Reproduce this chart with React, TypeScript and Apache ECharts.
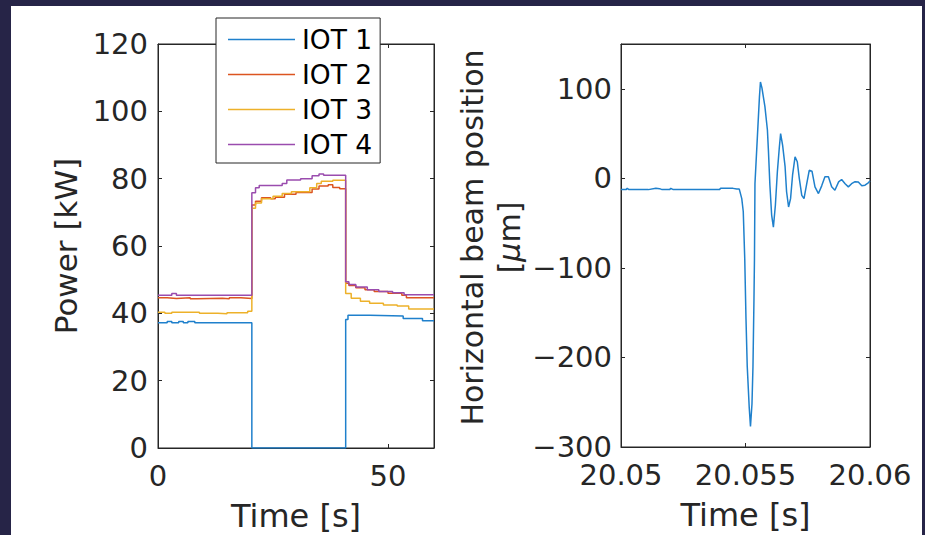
import React, { useEffect, useRef } from "react";
import * as echarts from "echarts";

// ---- Left panel: IOT power (stairs) ----
const iotNames = ["IOT 1", "IOT 2", "IOT 3", "IOT 4"];
const iot1Time = [0, 2, 3, 4.5, 5.5, 6.5, 8, 20.4, 40.8, 41.3, 46, 53.3, 57.5, 60];
const iot1Power = [37.2, 37.6, 37.2, 37.6, 37.2, 37.6, 37.2, 0, 38.2, 39.4, 39.2, 38.5, 37.8, 37.8];
const iot2Time = [0, 2, 4, 7, 8.5, 14, 15.5, 18, 20.4, 21.2, 22.5, 24.5, 25.5, 27.5, 30, 33.5, 35, 37, 38, 39.5, 40.8, 41.5, 43, 45, 47, 50, 53, 54, 60];
const iot2Power = [44.6, 44.4, 44.6, 44.3, 44.5, 44.3, 44.6, 44.4, 72.2, 73.3, 74.3, 74.0, 74.5, 75.4, 75.9, 76.9, 77.8, 78.2, 77.4, 77.0, 48.9, 48.3, 47.6, 47.0, 46.5, 46.0, 45.4, 44.6, 44.6];
const iot3Time = [0, 1.5, 3, 9, 13, 15, 19.5, 20.4, 21.2, 22.5, 25, 27, 29, 33, 34.5, 35.5, 38, 40.8, 42, 44, 46, 49, 52, 54.5, 60];
const iot3Power = [40.3, 40.0, 40.3, 40.0, 39.9, 40.2, 40.6, 71.2, 72.8, 74.0, 74.8, 75.6, 76.1, 77.3, 78.6, 79.2, 79.5, 45.9, 44.5, 43.6, 43.0, 42.5, 42.2, 41.3, 41.3];
const iot4Time = [0, 3, 4, 20.4, 21.2, 22, 27, 28, 31, 33.5, 35, 36, 40.8, 41.5, 43, 45.5, 48, 51, 53.5, 60];
const iot4Power = [45.4, 45.9, 45.4, 75.8, 77.3, 78.0, 78.6, 79.6, 80.0, 80.9, 81.4, 81.0, 49.4, 48.6, 47.8, 47.0, 46.5, 46.1, 45.5, 45.5];
const powerTicks = { min: 0, max: 120, interval: 20 };
const timeTicks = { min: 0, max: 60, interval: 50 };

// ---- Right panel: horizontal beam position ----
const beamTime = [
  20.05, 20.0502, 20.05025, 20.05032, 20.0511, 20.0514, 20.05155, 20.05165, 20.05195, 20.052, 20.0521, 20.05395,
  20.054, 20.0545, 20.05465, 20.05475, 20.05485, 20.05491, 20.05497, 20.05502, 20.05507, 20.05515, 20.0552,
  20.05526, 20.0553, 20.05534, 20.05536, 20.05538, 20.05548, 20.05556, 20.0556, 20.05566, 20.05578, 20.05588,
  20.05592, 20.05598, 20.05605, 20.05612, 20.0562, 20.05628, 20.05636, 20.05641, 20.05649, 20.05659, 20.05665,
  20.05673, 20.05681, 20.05689, 20.05699, 20.05708, 20.05716, 20.05726, 20.05735, 20.05746, 20.05756, 20.05767,
  20.05779, 20.05793, 20.05806, 20.05819, 20.05833, 20.05846, 20.05859, 20.05874, 20.05886, 20.059, 20.05913,
  20.05926, 20.0594, 20.05953, 20.05967, 20.0598, 20.05993, 20.06,
];
const beamPos = [
  -12.6, -12.6, -11.2, -12.6, -12.6, -11.0, -11.5, -12.6, -12.6, -11.2, -12.6, -12.6,
  -11.2, -11.2, -12.0, -12.0, -22.7, -37, -90, -157, -210, -256, -277,
  -252, -210, -135, -90, -6, 48, 91, 107.5, 101, 80, 54,
  31.5, -7.7, -41, -54.5, -30, 7.3, 35, 50, 37, 13, -15,
  -32, -22.7, 3.5, 24, 18.5, 0, -19, -22.7, -6, 9, 8,
  -9.5, -17, -8.4, 1.7, 1.7, -9.5, -13.3, -4, -1.3, -6, -9.5,
  -6, -3.7, -4.2, -8.2, -7.6, -5, -3,
];
const beamTicksY = { min: -300, max: 150, interval: 100 };
const beamTicksX = { min: 20.05, max: 20.06, interval: 0.005 };

const colors = ["#1f80cc", "#dc5520", "#edb12a", "#9a4cae"];
const axisColor = "#262626";
const FONT = "DejaVu Sans";

const pairs = (t: number[], v: number[]) => t.map((x, i) => [x, v[i]]);
const minus = (v: number) => String(v).replace("-", "\u2212");

function baseAxis(extra: any) {
  return {
    type: "value",
    axisLine: { show: true, onZero: false, lineStyle: { color: axisColor, width: 1 } },
    axisTick: { show: true, inside: true, length: 4, lineStyle: { color: axisColor, width: 1 } },
    splitLine: { show: false },
    axisLabel: { show: false },
    ...extra,
  };
}

function labelStyle(margin: number, extra: any = {}) {
  return { show: true, color: axisColor, fontFamily: FONT, fontSize: 29, margin, ...extra };
}

export default function App() {
  const ref = useRef<HTMLDivElement>(null);
  useEffect(() => {
    if (!ref.current) return;
    const chart = echarts.init(ref.current, undefined, { renderer: "svg" });
    const iotSeries = [
      [iot1Time, iot1Power],
      [iot2Time, iot2Power],
      [iot3Time, iot3Power],
      [iot4Time, iot4Power],
    ].map(([t, p], i) => ({
      name: iotNames[i],
      type: "line",
      step: "end",
      xAxisIndex: 0,
      yAxisIndex: 0,
      symbol: "none",
      data: pairs(t, p),
      lineStyle: { color: colors[i], width: 1.5 },
      itemStyle: { color: colors[i] },
    }));
    chart.setOption({
      animation: false,
      backgroundColor: "#262447",
      graphic: [
        {
          type: "rect",
          z: -10,
          silent: true,
          shape: { x: 11, y: 6, width: 911, height: 529 },
          style: { fill: "#ffffff" },
        },
      ],
      grid: [
        {
          left: 158, top: 44, width: 276, height: 404, show: true, borderColor: axisColor, borderWidth: 1,
          containLabel: false, outerBoundsMode: "none",
        },
        {
          left: 621, top: 44, width: 249, height: 403, show: true, borderColor: axisColor, borderWidth: 1,
          containLabel: false, outerBoundsMode: "none",
        },
      ],
      legend: {
        data: iotNames,
        orient: "vertical",
        left: 216,
        top: 18,
        padding: [8, 8, 5, 12],
        icon: "rect",
        itemWidth: 67,
        itemHeight: 1.5,
        itemGap: 8,
        backgroundColor: "#ffffff",
        borderColor: axisColor,
        borderWidth: 1,
        borderRadius: 0,
        textStyle: { fontFamily: FONT, fontSize: 26.5, color: "#000", padding: [0, 0, 0, 2] },
      },
      xAxis: [
        baseAxis({
          gridIndex: 0,
          position: "bottom",
          ...timeTicks,
          axisLabel: labelStyle(13, { showMaxLabel: false }),
          name: "Time [s]",
          nameLocation: "middle",
          nameGap: 52,
          nameTextStyle: { fontFamily: FONT, fontSize: 32, color: axisColor },
        }),
        baseAxis({ gridIndex: 0, position: "top", ...timeTicks }),
        baseAxis({
          gridIndex: 1,
          position: "bottom",
          ...beamTicksX,
          axisLabel: labelStyle(13, { formatter: (v: number) => String(+v.toFixed(3)) }),
          name: "Time [s]",
          nameLocation: "middle",
          nameGap: 52,
          nameTextStyle: { fontFamily: FONT, fontSize: 32, color: axisColor },
        }),
        baseAxis({ gridIndex: 1, position: "top", ...beamTicksX }),
      ],
      yAxis: [
        baseAxis({
          gridIndex: 0,
          position: "left",
          ...powerTicks,
          axisLabel: labelStyle(10),
          name: "Power [kW]",
          nameLocation: "middle",
          nameGap: 77,
          nameTextStyle: { fontFamily: FONT, fontSize: 31, color: axisColor },
        }),
        baseAxis({ gridIndex: 0, position: "right", ...powerTicks }),
        baseAxis({
          gridIndex: 1,
          position: "left",
          ...beamTicksY,
          axisLabel: labelStyle(9, { showMaxLabel: false, formatter: (v: number) => minus(v) }),
          name: "Horizontal beam position\n[{it|\u03bc}m]",
          nameLocation: "middle",
          nameGap: 90,
          nameTextStyle: {
            fontFamily: FONT,
            fontSize: 30,
            lineHeight: 37,
            color: axisColor,
            align: "center",
            padding: [0, 0, 0, 16],
            rich: { it: { fontFamily: FONT, fontSize: 30, lineHeight: 37, fontStyle: "italic", color: axisColor } },
          },
        }),
        baseAxis({ gridIndex: 1, position: "right", ...beamTicksY }),
      ],
      series: [
        ...iotSeries,
        {
          name: "beam",
          type: "line",
          xAxisIndex: 2,
          yAxisIndex: 2,
          symbol: "none",
          data: pairs(beamTime, beamPos),
          lineStyle: { color: colors[0], width: 1.5 },
          itemStyle: { color: colors[0] },
        },
      ],
    });
    return () => chart.dispose();
  }, []);
  return <div ref={ref} style={{ position: "fixed", left: 0, top: 0, width: 925, height: 535 }} />;
}
